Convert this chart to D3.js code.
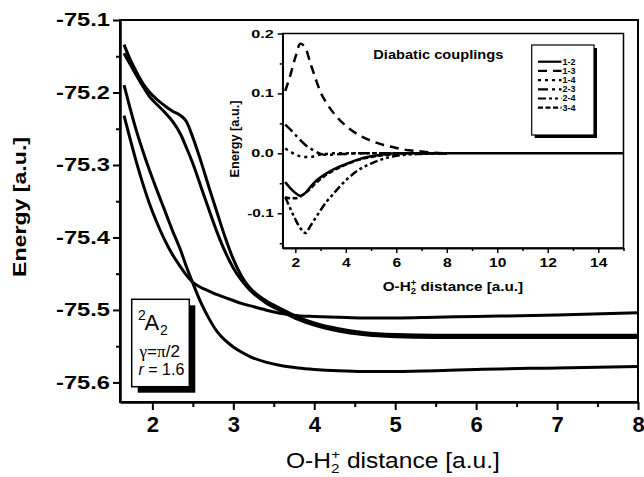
<!DOCTYPE html>
<html>
<head>
<meta charset="utf-8">
<script src="https://cdn.jsdelivr.net/npm/d3@7"></script>
<style>
  body { margin: 0; background: #fff; }
  svg { font-family: "Liberation Sans", Arial, sans-serif; }
</style>
</head>
<body>
<div id="chart"></div>
<script>
// adiabatic energies [a.u.] vs O-H2+ distance [a.u.]
var distance = [1.65, 1.72, 1.8, 1.88, 1.96, 2.05, 2.15, 2.25, 2.35, 2.42, 2.5, 2.6, 2.7, 2.8, 2.9,
                3.0, 3.1, 3.2, 3.4, 3.6, 3.8, 4.0, 4.3, 4.6, 5.0, 5.5, 6.0, 7.0, 8.0];
var stateA = [-75.134, -75.153, -75.171, -75.187, -75.199, -75.209, -75.218, -75.226, -75.232, -75.240,
              -75.262, -75.295, -75.331, -75.366, -75.400, -75.430, -75.453, -75.469, -75.487, -75.499,
              -75.510, -75.518, -75.526, -75.531, -75.534, -75.535, -75.535, -75.535, -75.535];
var stateB = [-75.146, -75.160, -75.176, -75.191, -75.205, -75.216, -75.227, -75.240, -75.258, -75.276,
              -75.298, -75.330, -75.362, -75.393, -75.420, -75.442, -75.459, -75.472, -75.490, -75.502,
              -75.513, -75.521, -75.529, -75.534, -75.537, -75.538, -75.538, -75.538, -75.538];
var stateC = [-75.190, -75.220, -75.252, -75.280, -75.306, -75.333, -75.362, -75.391, -75.418, -75.440,
              -75.463, -75.490, -75.512, -75.530, -75.542, -75.551, -75.558, -75.564, -75.572, -75.577,
              -75.580, -75.582, -75.584, -75.585, -75.585, -75.584, -75.582, -75.580, -75.578];
var stateD = [-75.232, -75.262, -75.295, -75.325, -75.352, -75.378, -75.403, -75.424, -75.441, -75.452,
              -75.462, -75.469, -75.474, -75.479, -75.483, -75.487, -75.491, -75.494, -75.500, -75.505,
              -75.508, -75.509, -75.510, -75.511, -75.511, -75.510, -75.509, -75.507, -75.504];
var energyTicks = [-75.6, -75.5, -75.4, -75.3, -75.2, -75.1];
var energyMinor = [-75.55, -75.45, -75.35, -75.25, -75.15];
var distanceTicks = [2, 3, 4, 5, 6, 7, 8];
var distanceMinor = [2.5, 3.5, 4.5, 5.5, 6.5, 7.5];

// diabatic couplings (inset)
var couplingDistance = [1.6, 1.8, 2.0, 2.2, 2.4, 2.6, 2.8, 3.0, 3.25, 3.5, 4.0, 4.5, 5.0, 5.5, 6.0, 6.5, 7.0, 7.5, 8.0];
var coupling12 = [-0.048, -0.058, -0.066, -0.071, -0.066, -0.056, -0.047, -0.040, -0.033, -0.027, -0.018, -0.010, -0.005, -0.002, 0, 0, 0, 0, 0];
var coupling13 = [0.104, 0.130, 0.160, 0.183, 0.176, 0.150, 0.125, 0.102, 0.083, 0.068, 0.046, 0.031, 0.021, 0.014, 0.009, 0.005, 0.003, 0.001, 0];
var coupling14 = [0.008, 0.003, -0.002, -0.005, -0.006, -0.006, -0.004, -0.002, -0.001, 0, 0, 0, 0, 0, 0, 0, 0, 0, 0];
var coupling23 = [0.048, 0.040, 0.031, 0.022, 0.014, 0.008, 0.003, -0.001, -0.003, -0.002, -0.001, 0, 0, 0, 0, 0, 0, 0, 0];
var coupling24 = [-0.073, -0.092, -0.110, -0.125, -0.133, -0.121, -0.108, -0.095, -0.080, -0.068, -0.045, -0.028, -0.017, -0.009, -0.004, -0.002, -0.001, 0, 0];
var coupling34 = [-0.073, -0.075, -0.075, -0.072, -0.066, -0.059, -0.050, -0.043, -0.035, -0.029, -0.019, -0.011, -0.006, -0.003, -0.001, 0, 0, 0, 0];
var tailDistance = [10, 12, 15];
var tail12 = [0, 0, 0];
var couplingLabels = ["1-2", "1-3", "1-4", "2-3", "2-4", "3-4"];
var insetXTicks = [2, 4, 6, 8, 10, 12, 14];
var insetXMinor = [3, 5, 7, 9, 11, 13, 15];
var insetYTicks = [-0.1, 0, 0.1, 0.2];
var insetYMinor = [-0.15, -0.05, 0.05, 0.15];

var width = 644, height = 477;
var svg = d3.select("#chart").append("svg")
  .attr("width", width)
  .attr("height", height);

function zip(xs, ys) { return xs.map(function(v, i) { return [v, ys[i]]; }); }

function styleAxis(g, w) {
  g.select(".domain").attr("stroke-width", w);
  g.selectAll(".tick line").attr("stroke-width", w);
}

// ---------- main plot ----------
var x = d3.scaleLinear().domain([1.6, 8]).range([120, 638]);
var y = d3.scaleLinear().domain([-75.627, -75.1]).range([402, 20]);

var gx = svg.append("g").attr("transform", "translate(0," + y.range()[0] + ")")
  .call(d3.axisBottom(x).tickValues(distanceTicks).tickSize(8).tickSizeOuter(0).tickPadding(6)
    .tickFormat(function(d) { return d; }));
gx.selectAll("text").attr("font-size", 22).attr("font-weight", "bold").attr("fill", "#000")
  .attr("font-family", "Liberation Sans, Arial, sans-serif");
styleAxis(gx, 2);
var gxm = svg.append("g").attr("transform", "translate(0," + y.range()[0] + ")")
  .call(d3.axisBottom(x).tickValues(distanceMinor).tickSize(5).tickSizeOuter(0).tickFormat(""));
styleAxis(gxm, 2);

var gy = svg.append("g").attr("transform", "translate(" + x.range()[0] + ",0)")
  .call(d3.axisLeft(y).tickValues(energyTicks).tickSize(7).tickSizeOuter(0).tickPadding(3)
    .tickFormat(function(d) { return d.toFixed(1); }));
gy.selectAll("text").attr("font-size", 17.5).attr("font-weight", "bold").attr("fill", "#000")
  .attr("font-family", "Liberation Sans, Arial, sans-serif")
  .attr("textLength", 54).attr("lengthAdjust", "spacingAndGlyphs");
styleAxis(gy, 2);
var gym = svg.append("g").attr("transform", "translate(" + x.range()[0] + ",0)")
  .call(d3.axisLeft(y).tickValues(energyMinor).tickSize(4).tickSizeOuter(0).tickFormat(""));
styleAxis(gym, 2);

svg.append("rect")
  .attr("x", x(1.6)).attr("y", y(-75.1))
  .attr("width", x(8) - x(1.6)).attr("height", y(-75.627) - y(-75.1))
  .attr("fill", "none").attr("stroke", "#000").attr("stroke-width", 2);

var line = d3.line()
  .x(function(d) { return x(d[0]); })
  .y(function(d) { return y(d[1]); })
  .curve(d3.curveMonotoneX);

svg.append("g").selectAll("path")
  .data([stateA, stateB, stateC, stateD])
  .join("path")
    .attr("d", function(d) { return line(zip(distance, d)); })
    .attr("fill", "none")
    .attr("stroke", "#000")
    .attr("stroke-width", 3)
    .attr("stroke-linejoin", "round");

// axis titles
svg.append("text")
  .attr("transform", "translate(25.5,207) rotate(-90)")
  .attr("text-anchor", "middle")
  .attr("font-size", 19).attr("font-weight", "bold")
  .attr("textLength", 140).attr("lengthAdjust", "spacingAndGlyphs")
  .text("Energy [a.u.]");

function fitGroup(g, x0, w) {
  var b = g.node().getBBox();
  var s = w / b.width;
  g.attr("transform", "translate(" + (x0 - b.x * s) + ",0) scale(" + s + ",1)");
}

function distanceTitle(parent, x0, base, size, w, bold) {
  var g = parent.append("g");
  var t = g.append("text").attr("x", 0).attr("y", base).attr("font-size", size)
    .attr("font-weight", bold ? "bold" : "normal");
  t.append("tspan").text("O-H");
  t.append("tspan").attr("font-size", size * 0.62).attr("dy", size * 0.22).text("2");
  t.append("tspan").attr("font-size", size * 0.62).attr("dx", -size * 0.34).attr("dy", -size * 0.62).text("+");
  t.append("tspan").attr("dy", size * 0.4).text(" distance [a.u.]");
  fitGroup(g, x0, w);
}
distanceTitle(svg, 286, 468, 22, 214, false);

// label box
svg.append("rect").attr("x", 137.7).attr("y", 305.3).attr("width", 57.6).attr("height", 87.4).attr("fill", "#000");
svg.append("rect").attr("x", 131.7).attr("y", 299.3).attr("width", 57.6).attr("height", 87.4)
  .attr("fill", "#fff").attr("stroke", "#000").attr("stroke-width", 1.5);
svg.append("text").attr("x", 138).attr("y", 320).attr("font-size", 14).text("2");
svg.append("text").attr("x", 144.5).attr("y", 330).attr("font-size", 22).text("A");
svg.append("text").attr("x", 160).attr("y", 334.5).attr("font-size", 14).text("2");
var gam = svg.append("g");
var gt = gam.append("text").attr("y", 357).attr("font-size", 16);
gt.append("tspan").attr("font-family", "Liberation Serif, serif").text("γ");
gt.append("tspan").text("=");
gt.append("tspan").attr("font-family", "Liberation Serif, serif").text("π");
gt.append("tspan").text("/2");
fitGroup(gam, 138.5, 41.5);
var rt = svg.append("text").attr("x", 138.5).attr("y", 375).attr("font-size", 16);
rt.append("tspan").attr("font-style", "italic").text("r");
rt.append("tspan").text(" = 1.6");

// ---------- inset ----------
var xi = d3.scaleLinear().domain([1.5, 15]).range([282.7, 623.5]);
var yi = d3.scaleLinear().domain([-0.158, 0.2]).range([248, 33.5]);

svg.append("rect")
  .attr("x", xi(1.5)).attr("y", yi(0.2))
  .attr("width", xi(15) - xi(1.5)).attr("height", yi(-0.158) - yi(0.2))
  .attr("fill", "#fff");

svg.append("clipPath").attr("id", "insetClip").append("rect")
  .attr("x", xi(1.5)).attr("y", yi(0.2))
  .attr("width", xi(15) - xi(1.5)).attr("height", yi(-0.158) - yi(0.2));

var gxi = svg.append("g").attr("transform", "translate(0," + yi.range()[0] + ")")
  .call(d3.axisBottom(xi).tickValues(insetXTicks).tickSize(5).tickSizeOuter(0).tickPadding(5)
    .tickFormat(function(d) { return d; }));
gxi.selectAll("text").attr("font-size", 13).attr("font-weight", "bold").attr("fill", "#000")
  .attr("font-family", "Liberation Sans, Arial, sans-serif")
  .each(function() {
    var w = this.getComputedTextLength();
    d3.select(this).attr("textLength", w * 1.2).attr("lengthAdjust", "spacingAndGlyphs");
  });
styleAxis(gxi, 1.5);
var gxim = svg.append("g").attr("transform", "translate(0," + yi.range()[0] + ")")
  .call(d3.axisBottom(xi).tickValues(insetXMinor).tickSize(3).tickSizeOuter(0).tickFormat(""));
styleAxis(gxim, 1.5);

var gyi = svg.append("g").attr("transform", "translate(" + xi.range()[0] + ",0)")
  .call(d3.axisLeft(yi).tickValues(insetYTicks).tickSize(5).tickSizeOuter(0).tickPadding(4)
    .tickFormat(function(d) { return d.toFixed(1); }));
gyi.selectAll("text").attr("font-size", 11).attr("font-weight", "bold").attr("fill", "#000")
  .attr("font-family", "Liberation Sans, Arial, sans-serif")
  .attr("textLength", function(d) { return d < 0 ? 26.5 : 22.5; })
  .attr("lengthAdjust", "spacingAndGlyphs");
styleAxis(gyi, 1.5);
var gyim = svg.append("g").attr("transform", "translate(" + xi.range()[0] + ",0)")
  .call(d3.axisLeft(yi).tickValues(insetYMinor).tickSize(3).tickSizeOuter(0).tickFormat(""));
styleAxis(gyim, 1.5);

svg.append("rect")
  .attr("x", xi(1.5)).attr("y", yi(0.2))
  .attr("width", xi(15) - xi(1.5)).attr("height", yi(-0.158) - yi(0.2))
  .attr("fill", "none").attr("stroke", "#000").attr("stroke-width", 1.5);

var dashes = ["none", "9,6", "3,4", "10,4,3,4", "8,3,3,3,3,3", "5,2.5"];
var couplings = [
  zip(couplingDistance, coupling12).concat(zip(tailDistance, tail12)),
  zip(couplingDistance, coupling13),
  zip(couplingDistance, coupling14),
  zip(couplingDistance, coupling23),
  zip(couplingDistance, coupling24),
  zip(couplingDistance, coupling34)
];

var lineInset = d3.line()
  .x(function(d) { return xi(d[0]); })
  .y(function(d) { return yi(d[1]); })
  .curve(d3.curveMonotoneX);

svg.append("g").attr("clip-path", "url(#insetClip)")
  .selectAll("path")
  .data(couplings)
  .join("path")
    .attr("d", lineInset)
    .attr("fill", "none")
    .attr("stroke", "#000")
    .attr("stroke-width", 2.5)
    .attr("stroke-dasharray", function(d, i) { return dashes[i]; });

svg.append("text")
  .attr("x", 373.3).attr("y", 59)
  .attr("font-size", 12).attr("font-weight", "bold")
  .attr("textLength", 130).attr("lengthAdjust", "spacingAndGlyphs")
  .text("Diabatic couplings");

svg.append("text")
  .attr("transform", "translate(239,139) rotate(-90)")
  .attr("text-anchor", "middle")
  .attr("font-size", 13).attr("font-weight", "bold")
  .attr("textLength", 77).attr("lengthAdjust", "spacingAndGlyphs")
  .text("Energy [a.u.]");

distanceTitle(svg, 382.7, 291.5, 13.5, 140.6, true);

// inset legend
svg.append("rect").attr("x", 534.7).attr("y", 48).attr("width", 62.3).attr("height", 90).attr("fill", "#000");
svg.append("rect").attr("x", 531.7).attr("y", 45).attr("width", 62.3).attr("height", 90)
  .attr("fill", "#fff").attr("stroke", "#000").attr("stroke-width", 1.2);
var leg = svg.append("g").selectAll("g")
  .data(couplingLabels)
  .join("g")
    .attr("transform", function(d, i) { return "translate(0," + (61.7 + i * 9.2) + ")"; });
leg.append("line")
  .attr("x1", 538).attr("x2", 561.5)
  .attr("stroke", "#000").attr("stroke-width", 2.2)
  .attr("stroke-dasharray", function(d, i) { return dashes[i]; });
leg.append("text")
  .attr("x", 562.5).attr("dy", "0.35em")
  .attr("font-size", 8.2).attr("font-weight", "bold")
  .attr("textLength", 13).attr("lengthAdjust", "spacingAndGlyphs")
  .text(function(d) { return d; });
</script>
</body>
</html>
